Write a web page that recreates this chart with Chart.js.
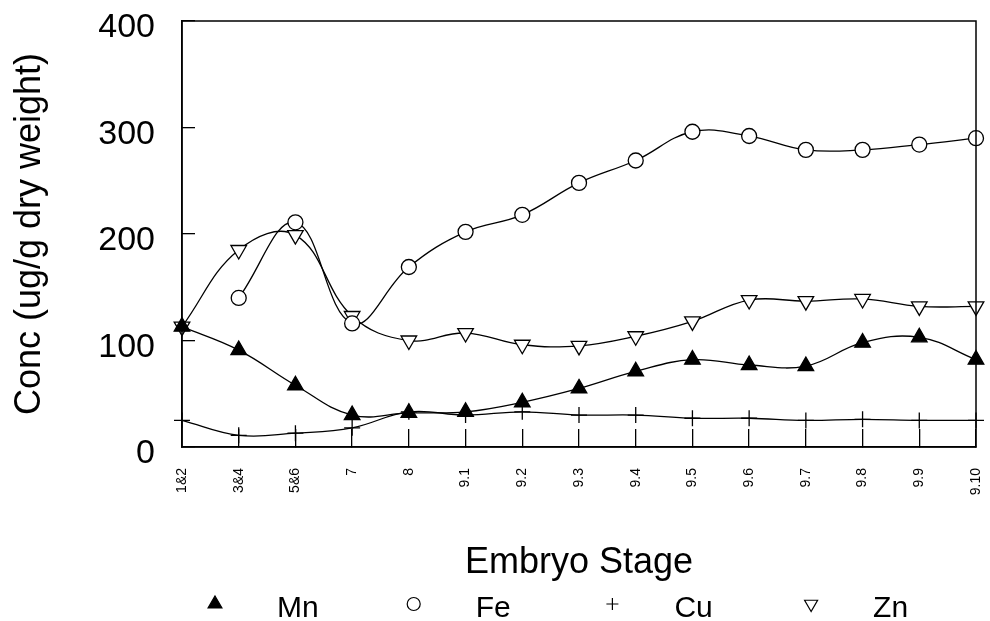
<!DOCTYPE html>
<html>
<head>
<meta charset="utf-8">
<script src="https://cdn.jsdelivr.net/npm/chart.js@4.4.0/dist/chart.umd.min.js"></script>
<style>
  html, body { margin: 0; padding: 0; background: #fff; }
  canvas { display: block; }
</style>
</head>
<body>
<canvas id="chart" width="990" height="621"></canvas>
<script>
// embryo stages along the x axis
const stages = ['1&2', '3&4', '5&6', '7', '8', '9.1', '9.2', '9.3', '9.4', '9.5', '9.6', '9.7', '9.8', '9.9', '9.10']

// concentrations, ug/g dry weight
const mn = [113, 91, 58, 30, 32, 33, 42, 55, 71, 82, 77, 76, 98, 103, 82]
const fe = [null, 140, 211, 116, 169, 202, 218, 248, 269, 296, 292, 279, 279, 284, 290]
const cu = [25, 11, 13, 18, 33, 30, 33, 30, 30, 27, 27, 25, 26, 25, 25]
const zn = [113, 185, 199, 123, 100, 107, 96, 95, 104, 118, 138, 137, 139, 132, 132]

const yTicks = [0, 100, 200, 300, 400]

const FONT = "'Liberation Sans', Arial, sans-serif"

function series(label, values, style, fill, radius, rotation) {
    return {
        label: label,
        data: values,
        borderColor: '#000',
        borderWidth: 1.3,
        tension: 0.4,
        fill: false,
        clip: false,
        pointStyle: style,
        pointRotation: rotation || 0,
        pointRadius: radius,
        pointHoverRadius: radius,
        pointBackgroundColor: fill,
        pointBorderColor: '#000',
        pointBorderWidth: 1.3
    }
}

// frame round the plot + legend row under the axis title
const framePlugin = {
    id: 'frame',
    afterDraw(chart) {
        const ctx = chart.ctx
        const a = chart.chartArea
        ctx.save()
        ctx.strokeStyle = '#000'
        ctx.lineWidth = 1.5
        ctx.strokeRect(a.left, a.top, a.right - a.left, a.bottom - a.top)

        // legend
        const sizes = [8, 6.5, 6, 7.5]
        const y = 604
        ctx.font = '30px ' + FONT
        ctx.textBaseline = 'alphabetic'
        chart.data.datasets.forEach((ds, i) => {
            const mx = 215 + i * 198.7
            ctx.fillStyle = ds.pointBackgroundColor
            ctx.strokeStyle = '#000'
            ctx.lineWidth = 1.2
            Chart.helpers.drawPoint(ctx, {
                pointStyle: ds.pointStyle,
                rotation: ds.pointRotation,
                radius: sizes[i],
                borderWidth: 1.2
            }, mx, y)
            ctx.fillStyle = '#000'
            ctx.fillText(ds.label, mx + 62, 617)
        })
        ctx.restore()
    }
}

const config = {
    type: 'line',
    data: {
        labels: stages,
        datasets: [
            series('Mn', mn, 'triangle', '#000', 9),
            series('Fe', fe, 'circle', '#fff', 7.5),
            series('Cu', cu, 'cross', '#000', 8),
            series('Zn', zn, 'triangle', '#fff', 9, 180)
        ]
    },
    options: {
        responsive: false,
        animation: false,
        devicePixelRatio: 1,
        layout: {
            padding: { top: 21, right: 14, left: 0, bottom: 36 }
        },
        plugins: {
            legend: { display: false },
            tooltip: { enabled: false }
        },
        scales: {
            x: {
                type: 'category',
                offset: false,
                border: { display: true, color: '#000', width: 1.5 },
                grid: {
                    drawOnChartArea: false,
                    color: '#000',
                    lineWidth: 1.3,
                    tickLength: -18
                },
                ticks: {
                    color: '#000',
                    font: { family: FONT, size: 14 },
                    minRotation: 90,
                    maxRotation: 90,
                    autoSkip: false,
                    padding: 39
                },
                title: {
                    display: true,
                    text: 'Embryo Stage',
                    color: '#000',
                    font: { family: FONT, size: 36 },
                    padding: { top: 0, bottom: 0 }
                },
                afterFit: (scale) => {
                    scale.height = 138
                    scale.paddingLeft = 0
                    scale.paddingRight = 0
                }
            },
            y: {
                min: 0,
                max: 400,
                border: { display: true, color: '#000', width: 1.5 },
                grid: {
                    drawOnChartArea: false,
                    color: '#000',
                    lineWidth: 1.3,
                    tickLength: -13
                },
                afterBuildTicks: (scale) => {
                    scale.ticks = yTicks.map(v => ({ value: v }))
                },
                ticks: {
                    color: '#000',
                    font: { family: FONT, size: 34 },
                    padding: 40,
                    labelOffset: 7
                },
                title: {
                    display: true,
                    text: 'Conc (ug/g dry weight)',
                    color: '#000',
                    font: { family: FONT, size: 36 },
                    padding: { top: 8, bottom: 0 }
                },
                afterFit: (scale) => {
                    scale.width = 182
                    scale.paddingTop = 0
                    scale.paddingBottom = 0
                }
            }
        }
    },
    plugins: [framePlugin]
}

const concChart = new Chart(document.getElementById('chart'), config)
</script>
</body>
</html>
